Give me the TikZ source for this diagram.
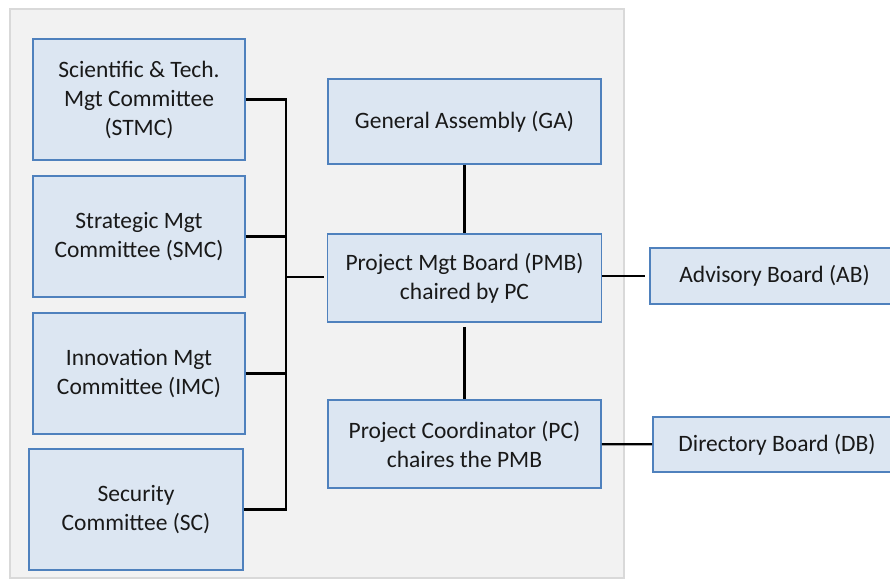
\documentclass[tikz,border=0pt]{standalone}
\usepackage{fontspec}
\setmainfont{Carlito}
\definecolor{panelfill}{HTML}{F2F2F2}
\definecolor{paneldraw}{HTML}{D9D9D9}
\definecolor{boxfill}{HTML}{DCE6F2}
\definecolor{boxdraw}{RGB}{79,129,189}
\tikzset{
  box/.style={draw=boxdraw, fill=boxfill, line width=1.8pt, align=center,
    font=\fontsize{23.5}{29}\selectfont, text=black!90, inner sep=0pt},
  conn/.style={draw=black, line width=2.2pt},
}
\begin{document}
\begin{tikzpicture}[x=1pt,y=-1pt]
\useasboundingbox (0,0) rectangle (890,579);
\path[fill=panelfill, draw=paneldraw, line width=1.5pt] (10,9) rectangle (624,578);

\node[box, minimum width=212pt, minimum height=121pt] (stmc) at (139,99.5) {Scientific \& Tech.\\Mgt Committee\\(STMC)};
\node[box, minimum width=212pt, minimum height=121pt] (smc) at (139,236.5) {Strategic Mgt\\Committee (SMC)};
\node[box, minimum width=212pt, minimum height=121pt] (imc) at (139,373.5) {Innovation Mgt\\Committee (IMC)};
\node[box, minimum width=214pt, minimum height=121pt] (sc) at (136,509.5) {Security\\Committee (SC)};

\node[box, minimum width=273pt, minimum height=85pt] (ga) at (464.5,121.5) {General Assembly (GA)};
\node[box, minimum width=274pt, minimum height=88pt] (pmb) at (464.5,278) {Project Mgt Board (PMB)\\chaired by PC};
\node[box, minimum width=273pt, minimum height=88pt] (pc) at (464.5,444) {Project Coordinator (PC)\\chaires the PMB};

\node[box, minimum width=249pt, minimum height=56pt] (ab) at (774.5,276) {Advisory Board (AB)};
\node[box, minimum width=248pt, minimum height=55pt] (db) at (777,444.5) {Directory Board (DB)};

\coordinate (bus) at (286,277);
\draw[conn] (stmc.east) -| (bus) |- (sc.east);
\draw[conn] (smc.east) -- (smc.east -| bus);
\draw[conn] (imc.east) -- (imc.east -| bus);
\draw[conn, shorten >=3pt] (bus) -- (bus -| pmb.west);

\draw[conn] (ga) -- (pmb);
\draw[conn, shorten <=4pt] (pmb) -- (pc);
\draw[conn, shorten >=4pt] (ab.west -| pmb.east) -- (ab.west);
\draw[conn] (pc) -- (db);
\end{tikzpicture}
\end{document}
